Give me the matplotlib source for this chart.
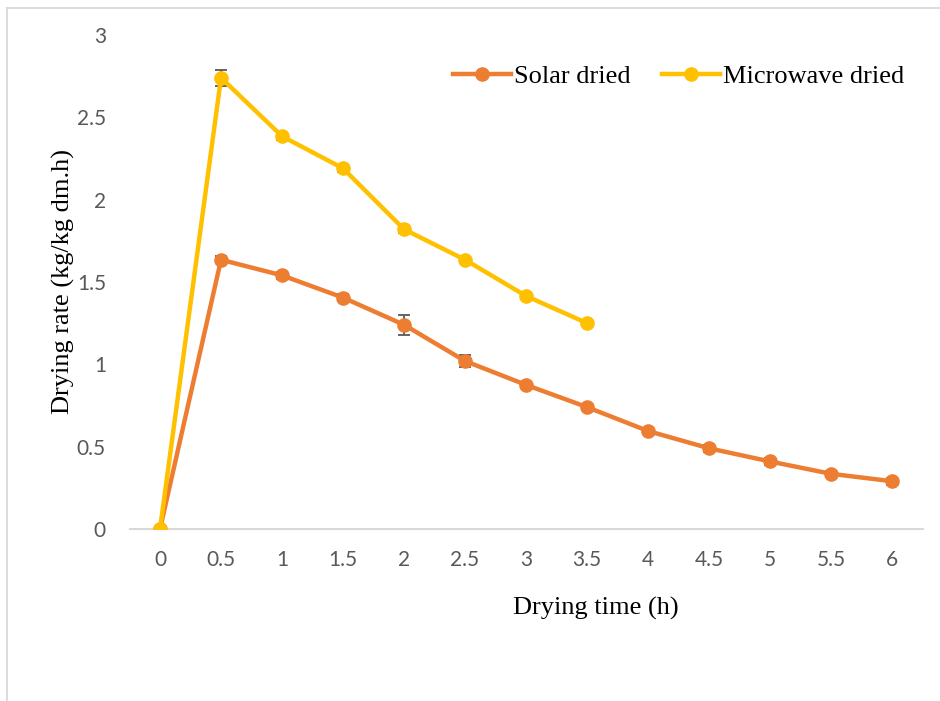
import matplotlib.pyplot as plt
from matplotlib.lines import Line2D

# drying time categories (h)
times = ["0", "0.5", "1", "1.5", "2", "2.5", "3", "3.5", "4", "4.5", "5", "5.5", "6"]

solar_rate = [0, 1.635, 1.54, 1.405, 1.24, 1.02, 0.875, 0.74, 0.595, 0.49, 0.41, 0.335, 0.29]
solar_err = [0, 0.02, 0.02, 0.02, 0.06, 0.035, 0.02, 0.02, 0.02, 0.02, 0.02, 0.02, 0.02]

micro_times = times[:8]
micro_rate = [0, 2.74, 2.385, 2.19, 1.82, 1.635, 1.415, 1.25]
micro_err = [0, 0.05, 0.02, 0.02, 0.02, 0.015, 0.02, 0.02]

orange = "#ED7D31"
yellow = "#FFC000"
grey = "#595959"

fig = plt.figure(figsize=(9.4, 7.01), dpi=100)
ax = fig.add_axes([0.1378, 0.2454, 0.8436, 0.7047])

ax.errorbar(times, solar_rate, yerr=solar_err, color=orange, lw=3.2,
            marker="o", ms=9.5, ecolor=grey, elinewidth=1.3, capsize=4.5,
            capthick=1.3, label="Solar dried", zorder=3)
ax.errorbar(micro_times, micro_rate, yerr=micro_err, color=yellow, lw=3.2,
            marker="o", ms=9.5, ecolor=grey, elinewidth=1.3, capsize=4.5,
            capthick=1.3, label="Microwave dried", zorder=4)

ax.set_xlim(-0.5, len(times) - 0.5)
ax.set_ylim(0, 3)
ax.set_yticks([0, 0.5, 1, 1.5, 2, 2.5, 3])
ax.set_yticklabels(["0", "0.5", "1", "1.5", "2", "2.5", "3"])

for s in ["top", "right", "left"]:
    ax.spines[s].set_visible(False)
ax.spines["bottom"].set_color("#D9D9D9")
ax.spines["bottom"].set_linewidth(1.5)
ax.spines["bottom"].set_zorder(1)

ax.tick_params(axis="both", length=0, labelsize=15, labelcolor=grey)
ax.tick_params(axis="x", pad=15)
ax.tick_params(axis="y", pad=17)
for lbl in ax.get_xticklabels() + ax.get_yticklabels():
    lbl.set_family("Lato")

serif = "Liberation Serif"
ax.set_xlabel("Drying time (h)", family=serif, fontsize=19)
ax.xaxis.set_label_coords(0.588, -0.137)
ax.set_ylabel("Drying rate (kg/kg dm.h)", family=serif, fontsize=19, labelpad=1)

handles = [Line2D([], [], color=orange, lw=3.2, marker="o", ms=9.5),
           Line2D([], [], color=yellow, lw=3.2, marker="o", ms=9.5)]
ax.legend(handles, ["Solar dried", "Microwave dried"], ncol=2, frameon=False,
          loc="upper right", bbox_to_anchor=(0.997, 0.972),
          prop={"family": serif, "size": 19}, handlelength=2.2,
          handletextpad=0.1, columnspacing=1.2, borderaxespad=0.2)

# outer chart frame (top and left edges)
fig.add_artist(Line2D([7.5 / 940, 7.5 / 940], [0, 1 - 7.5 / 701],
                      color="#D9D9D9", lw=1.3, transform=fig.transFigure))
fig.add_artist(Line2D([7.5 / 940, 1], [1 - 7.5 / 701, 1 - 7.5 / 701],
                      color="#D9D9D9", lw=1.3, transform=fig.transFigure))

fig.savefig("out.png", dpi=100)
